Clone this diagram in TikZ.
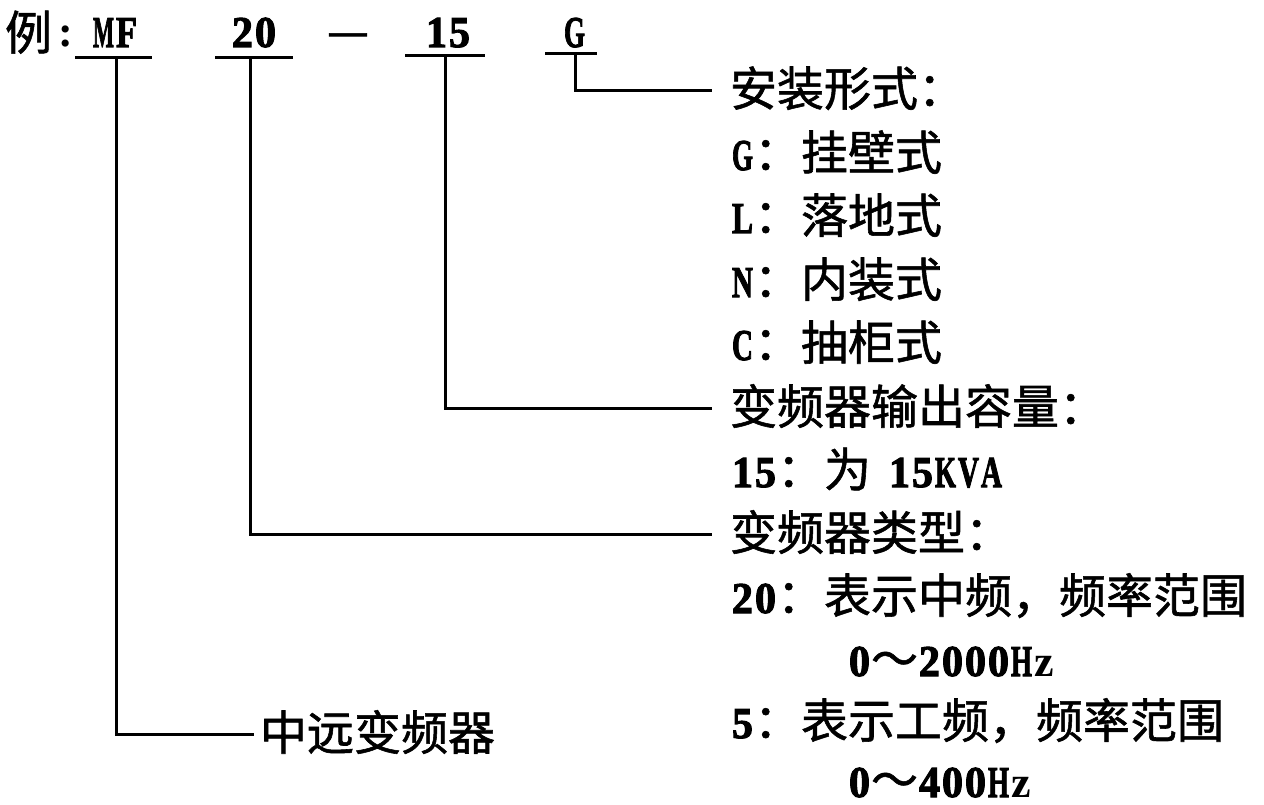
\documentclass[tikz,border=0pt]{standalone}
\usepackage{fontspec}
\usepackage{graphicx}
\setmainfont{Liberation Serif}
\newfontfamily\latsq{Liberation Serif}[BoldFeatures={FakeBold=2.5}]
\newfontfamily\cjkf{Noto Sans CJK SC}[FakeBold=1.2]
\newsavebox\hcbox
\makeatletter
\newcommand\hcchar[1]{\sbox\hcbox{#1}\ifdim\wd\hcbox>21pt\relax
  \sbox\hcbox{\latsq\bfseries #1}%
  \edef\hcratio{\strip@pt\dimexpr 21pt*65536/\wd\hcbox\relax}%
  \hbox to 23pt{\hss\scalebox{\hcratio}[1]{\usebox\hcbox}\hss}%
  \else\hbox to 23pt{\hss\usebox\hcbox\hss}\fi}
\makeatother
\def\hcsend{hcs-end-marker}
\def\hcsloop#1{\ifx#1\hcsend\else\hcchar{#1}\expandafter\hcsloop\fi}
\newcommand\La[1]{{\fontsize{44pt}{50pt}\selectfont\bfseries\hcsloop#1\hcsend}}
\newcommand\Ch[1]{{\cjkf\fontsize{47pt}{50pt}\selectfont #1}}
\begin{document}
\begin{tikzpicture}[x=1pt,y=-1pt,
  lab/.style={inner sep=0pt, outer sep=0pt, anchor=base west},
  ln/.style={line width=3pt},
  conn/.style={line width=3pt}]
\useasboundingbox[fill=white] (0,0) rectangle (1264,805);
% title row
\node[lab] (li) at (5,50) {\Ch{例}};
\node[lab] (colon) at (58,47) {\fontsize{44pt}{50pt}\selectfont\bfseries :};
\node[lab] (mf) at (92,47) {\La{MF}};
\node[lab] (n20) at (231,47) {\La{20}};
\node[lab] (dash) at (327,48) {\Ch{—}};
\node[lab] (n15) at (425,47) {\La{15}};
\node[lab] (g) at (563,47) {\La{G}};
% underlines
\draw[ln] (75,58) -- (152,58);
\draw[ln] (215,58) -- (293,58);
\draw[ln] (405,56) -- (485,56);
\draw[ln] (545,54) -- (597,54);
\coordinate (mfu) at (116,58);
\coordinate (u20) at (250,58);
\coordinate (u15) at (445,56);
\coordinate (ug) at (575,54);
% right column
\node[lab] (az) at (730,106) {\Ch{安装形式：}};
\node[lab] (azg) at (731,170) {\La{G}\Ch{：挂壁式}};
\node[lab] (azl) at (731,233) {\La{L}\Ch{：落地式}};
\node[lab] (azn) at (731,297) {\La{N}\Ch{：内装式}};
\node[lab] (azc) at (731,360) {\La{C}\Ch{：抽柜式}};
\node[lab] (cap) at (730,424) {\Ch{变频器输出容量：}};
\node[lab] (cap15) at (731,487) {\La{15}\Ch{：为}\hspace{17pt}\La{15KVA}};
\node[lab] (typ) at (730,550) {\Ch{变频器类型：}};
\node[lab] (typ20) at (731,613) {\La{20}\Ch{：表示中频，频率范围}};
\node[lab] (typ20r) at (848,676) {\La{0}\Ch{～}\La{2000Hz}};
\node[lab] (typ5) at (731,738) {\La{5}\Ch{：表示工频，频率范围}};
\node[lab] (typ5r) at (848,797) {\La{0}\Ch{～}\La{400Hz}};
\node[lab] (zy) at (260,750) {\Ch{中远变频器}};
% connectors
\draw[conn] (ug) |- ([xshift=-18pt,yshift=-2pt]az.west);
\draw[conn] (u15) |- ([xshift=-18pt,yshift=-2pt]cap.west);
\draw[conn] (u20) |- ([xshift=-18pt,yshift=-2pt]typ.west);
\draw[conn] (mfu) |- ([xshift=-6pt,yshift=-2pt]zy.west);
\end{tikzpicture}
\end{document}
